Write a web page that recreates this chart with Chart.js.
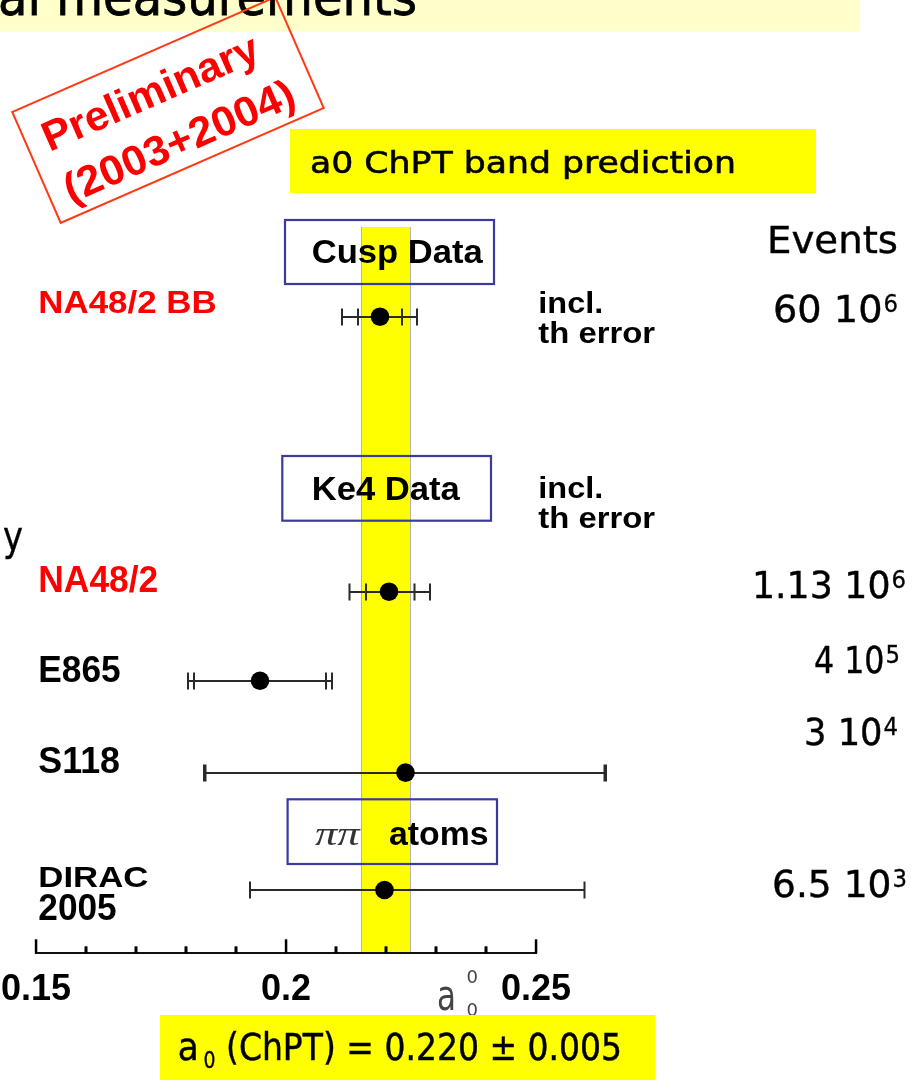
<!DOCTYPE html>
<html><head><meta charset="utf-8">
<script src="https://cdn.jsdelivr.net/npm/chart.js@4.4.1/dist/chart.umd.min.js"></script>
<style>html,body{margin:0;padding:0;background:#fff;overflow:hidden}canvas{display:block}</style>
</head><body><canvas id="c" width="922" height="1081"></canvas>
<script>
// ---------------- data ----------------
const experiments = ['NA48/2 BB', 'NA48/2', 'E865', 'S118', 'DIRAC\n2005'];
const rowPos      = [8.765, 4.979, 3.753, 2.487, 0.872];      // vertical position (plot units)
const a0Values    = [0.2188, 0.2206, 0.1948, 0.2239, 0.2197];
const statErrLo   = [0.0044, 0.0046, 0.0132, 0.0400, null];
const statErrHi   = [0.0044, 0.0051, 0.0132, 0.0398, null];
const totErrLo    = [0.0076, 0.0079, 0.0144, 0.0403, 0.0269];
const totErrHi    = [0.0074, 0.0082, 0.0144, 0.0401, 0.0400];
const eventMantissa = ['60', '1.13', '4', '3', '6.5'];
const eventExponent = ['6', '6', '5', '4', '3'];
const chptBand    = [0.215, 0.225];
const xTickLabels = [0.15, 0.2, 0.25];
const xMinorStep  = 0.01;

// ---------------- layout / style ----------------
const SANS = '"Liberation Sans", Arial, sans-serif';
const COMIC = '"DejaVu Sans", sans-serif';
const labelStyle = [
  {x:38.3, y:313.3, w:178.4, size:31, color:'#ff0000'},
  {x:38.3, y:591.7, w:120,   size:36, color:'#ff0000'},
  {x:38.3, y:681.7, w:82.4,  size:37, color:'#000'},
  {x:38.3, y:772.7, w:81.7,  size:36, color:'#000'},
  {x:38.3, y:886.7, w:110,   size:30, color:'#000', y2:920, w2:78.4, size2:37}
];
const eventStyle = [
  {r:898, y:322, w:125},
  {r:906, y:598, w:154},
  {r:900, y:673, w:86},
  {r:898, y:745, w:94},
  {r:907, y:897, w:135}
];
const boxes = [
  {x0:285, y0:220, x1:494, y1:284},
  {x0:282.3, y0:456, x1:491, y1:520.7},
  {x0:287.6, y0:799.3, x1:497, y1:864}
];
const AXIS_H = 58;

function txt(ctx, s, x, y, font, color, w, align, stroke) {
  ctx.save();
  ctx.font = font; ctx.fillStyle = color; ctx.textBaseline = 'alphabetic'; ctx.textAlign = 'left';
  const m = ctx.measureText(s).width;
  const sx = w ? w / m : 1;
  let x0 = x;
  if (align === 'right') x0 = x - m * sx; else if (align === 'center') x0 = x - m * sx / 2;
  ctx.translate(x0, y); ctx.scale(sx, 1); ctx.fillText(s, 0, 0);
  if (stroke) { ctx.strokeStyle = color; ctx.lineWidth = stroke; ctx.strokeText(s, 0, 0); }
  ctx.restore();
  return m * sx;
}

const deco = {
  id: 'deco',
  beforeDraw(chart) {
    const ctx = chart.ctx, xs = chart.scales.x, ca = chart.chartArea;
    ctx.save();
    ctx.fillStyle = '#fff'; ctx.fillRect(0, 0, chart.width, chart.height);
    // ChPT band
    const bx0 = xs.getPixelForValue(chptBand[0]), bx1 = xs.getPixelForValue(chptBand[1]);
    ctx.fillStyle = '#ffff00';
    ctx.fillRect(bx0, ca.top, bx1 - bx0, ca.bottom - ca.top);
    ctx.strokeStyle = '#b4b4b4'; ctx.lineWidth = 1;
    ctx.beginPath();
    ctx.moveTo(bx0 + 0.5, ca.top); ctx.lineTo(bx0 + 0.5, ca.bottom);
    ctx.moveTo(bx1 - 0.5, ca.top); ctx.lineTo(bx1 - 0.5, ca.bottom);
    ctx.stroke();
    // section boxes
    ctx.strokeStyle = '#3b3b9f'; ctx.lineWidth = 2.2;
    boxes.forEach(b => ctx.strokeRect(b.x0, b.y0, b.x1 - b.x0, b.y1 - b.y0));
    ctx.restore();
    txt(ctx, 'Cusp Data', 311.7, 263, 'bold 34px ' + SANS, '#000', 171);
    txt(ctx, 'Ke4 Data', 311.7, 500, 'bold 34px ' + SANS, '#000', 148);
    txt(ctx, '\u03C0\u03C0', 315, 845, 'italic 34px "Liberation Serif", serif', '#333', 44.6);
    txt(ctx, 'atoms', 389, 845, 'bold 34px ' + SANS, '#000', 99.6);
  },
  beforeDatasetsDraw(chart) {
    const ctx = chart.ctx, xs = chart.scales.x, ys = chart.scales.y;
    ctx.save();
    ctx.strokeStyle = '#2a2a2a'; ctx.lineWidth = 2;
    const cap = 8.5;
    a0Values.forEach((v, i) => {
      const y = Math.round(ys.getPixelForValue(rowPos[i]));
      const xl = xs.getPixelForValue(v - totErrLo[i]);
      const xr = xs.getPixelForValue(v + totErrHi[i]);
      ctx.beginPath();
      ctx.moveTo(xl, y); ctx.lineTo(xr, y);
      ctx.moveTo(xl, y - cap); ctx.lineTo(xl, y + cap);
      ctx.moveTo(xr, y - cap); ctx.lineTo(xr, y + cap);
      if (statErrLo[i] != null) {
        const sl = xs.getPixelForValue(v - statErrLo[i]);
        const sr = xs.getPixelForValue(v + statErrHi[i]);
        ctx.moveTo(sl, y - cap); ctx.lineTo(sl, y + cap);
        ctx.moveTo(sr, y - cap); ctx.lineTo(sr, y + cap);
      }
      ctx.stroke();
    });
    ctx.restore();
  },
  afterDraw(chart) {
    const ctx = chart.ctx, xs = chart.scales.x, ca = chart.chartArea;
    ctx.save();
    // upward tick marks
    ctx.fillStyle = '#000';
    xs.ticks.forEach(t => {
      const px = xs.getPixelForValue(t.value);
      const major = xTickLabels.some(m => Math.abs(m - t.value) < 1e-9);
      if (major) ctx.fillRect(px - 1.2, ca.bottom - 14, 2.5, 14);
      else ctx.fillRect(px - 1.5, ca.bottom - 7, 3, 7);
    });
    ctx.restore();
    // axis title a_0^0
    txt(ctx, 'a', 437, 1010, '42px ' + COMIC, '#444', 19);
    txt(ctx, '0', 466.5, 983, '18px ' + COMIC, '#444', 11.5);
    txt(ctx, '0', 466.5, 1016, '18px ' + COMIC, '#444', 11.5);

    // top banner
    ctx.save();
    ctx.fillStyle = '#ffffcc'; ctx.fillRect(0, 0, 860, 31.7);
    ctx.restore();
    txt(ctx, 'al measurements', -2, 15, '52px ' + COMIC, '#000', 419, null, 0.8);

    // ChPT band prediction box
    ctx.save(); ctx.fillStyle = '#ffff00'; ctx.fillRect(290, 129, 526, 64); ctx.restore();
    txt(ctx, 'a0 ChPT band prediction', 310, 173, '31px ' + COMIC, '#000', 426, null, 0.6);

    // bottom box
    ctx.save(); ctx.fillStyle = '#ffff00'; ctx.fillRect(160, 1015, 495, 65); ctx.restore();
    txt(ctx, 'a', 177.7, 1060, '38px ' + COMIC, '#000', 21, null, 0.5);
    txt(ctx, '0', 203.5, 1068, '23px ' + COMIC, '#000', 12, null, 0.4);
    txt(ctx, '(ChPT) = 0.220 \u00B1 0.005', 226, 1060, '37px ' + COMIC, '#000', 396, null, 0.5);

    // stamp
    ctx.save();
    ctx.translate(168, 110); ctx.rotate(-23.6 * Math.PI / 180);
    ctx.strokeStyle = '#ff3a14'; ctx.lineWidth = 2;
    ctx.strokeRect(-143.5, -60.5, 287, 121);
    txt(ctx, 'Preliminary', -9.3, -9, 'bold 42px ' + SANS, '#ff0000', 232, 'center');
    txt(ctx, '(2003+2004)', -2.3, 47, 'bold 42px ' + SANS, '#ff0000', 248, 'center');
    ctx.restore();

    // row labels
    experiments.forEach((name, i) => {
      const st = labelStyle[i];
      const parts = name.split('\n');
      txt(ctx, parts[0], st.x, st.y, 'bold ' + st.size + 'px ' + SANS, st.color, st.w);
      if (parts[1]) txt(ctx, parts[1], st.x, st.y2, 'bold ' + st.size2 + 'px ' + SANS, st.color, st.w2);
    });
    // incl. th error
    [[313.3, 343.3], [498, 528]].forEach(([y1, y2]) => {
      txt(ctx, 'incl.', 538.3, y1, 'bold 30px ' + SANS, '#000', 65);
      txt(ctx, 'th error', 538.3, y2, 'bold 30px ' + SANS, '#000', 116.7);
    });
    // events
    txt(ctx, 'Events', 898, 253, '37px ' + COMIC, '#000', 131, 'right', 0.4);
    eventMantissa.forEach((m, i) => {
      const st = eventStyle[i];
      ctx.save(); ctx.font = '24px ' + COMIC;
      const ew = ctx.measureText(eventExponent[i]).width * 0.95;
      ctx.restore();
      txt(ctx, eventExponent[i], st.r, st.y - 10, '24px ' + COMIC, '#000', ew, 'right', 0.3);
      txt(ctx, m + ' 10', st.r - ew - 1, st.y, '37px ' + COMIC, '#000', st.w - ew - 1, 'right', 0.4);
    });
    // cut-off text at left
    txt(ctx, 'y', 3, 550, '40px ' + COMIC, '#000', 20, null, 0.4);
  }
};

const ctx = document.getElementById('c').getContext('2d');
new Chart(ctx, {
  type: 'scatter',
  data: {
    datasets: [{
      data: a0Values.map((v, i) => ({ x: v, y: rowPos[i] })),
      pointRadius: 9.3, pointHoverRadius: 9.3,
      pointBackgroundColor: '#000', pointBorderColor: '#000', pointBorderWidth: 0,
      clip: false
    }]
  },
  options: {
    responsive: false, animation: false, devicePixelRatio: 1,
    layout: { padding: { left: 36, right: 386, top: 227, bottom: 1081 - 953.3 - AXIS_H } },
    plugins: { legend: { display: false }, tooltip: { enabled: false } },
    events: [],
    scales: {
      x: {
        type: 'linear', min: xTickLabels[0], max: xTickLabels[xTickLabels.length - 1], position: 'bottom',
        grid: { display: false, drawTicks: false },
        border: { display: true, color: '#111', width: 2 },
        afterFit: (s) => { s.height = AXIS_H; s.paddingLeft = 0; s.paddingRight = 0; },
        ticks: {
          stepSize: xMinorStep, autoSkip: false, maxRotation: 0, padding: 15, color: '#000',
          font: { family: 'Liberation Sans', weight: 'bold', size: 36 },
          callback: (v) => { const m = xTickLabels.find(t => Math.abs(t - v) < 1e-9); return m !== undefined ? String(m) : ''; }
        }
      },
      y: { type: 'linear', min: 0, max: 10, display: false }
    }
  },
  plugins: [deco]
});
</script>
</body></html>
